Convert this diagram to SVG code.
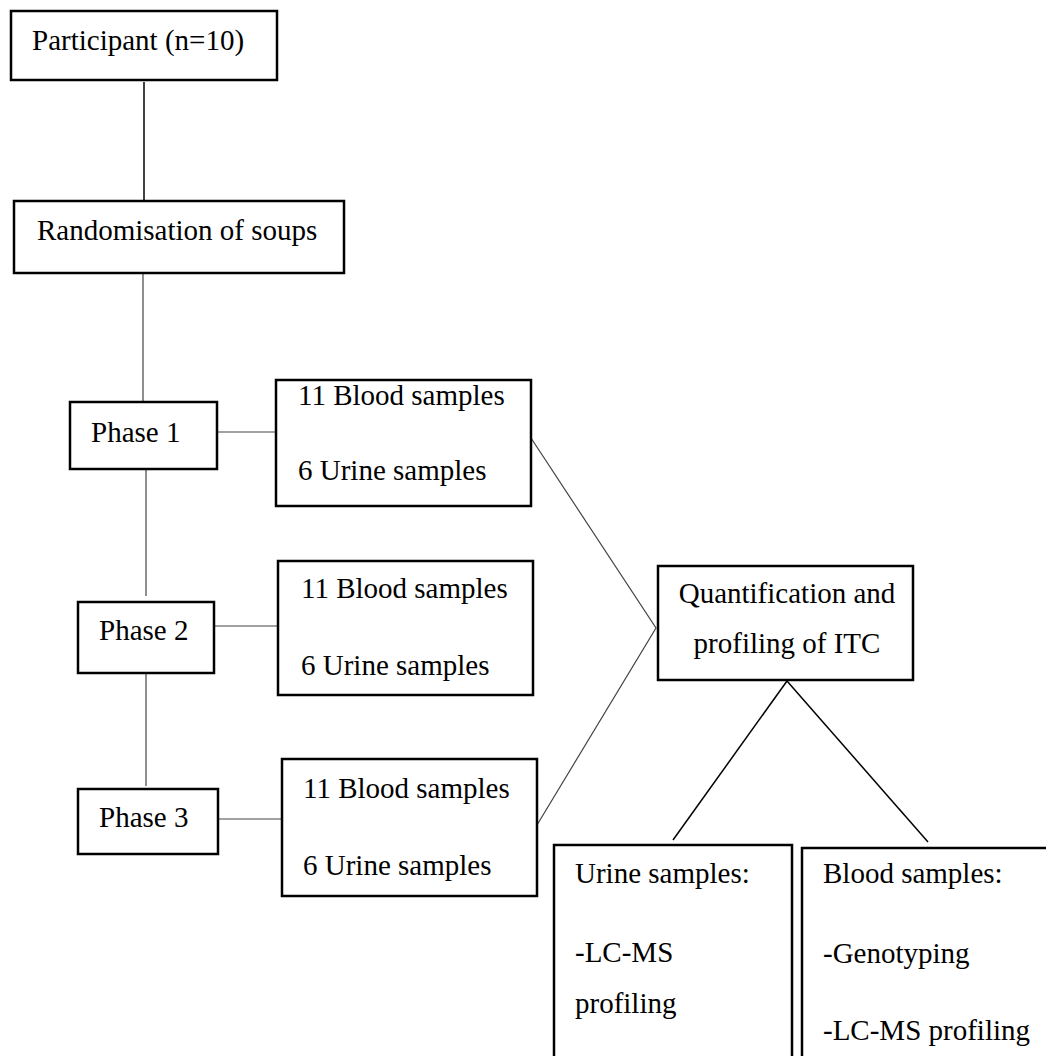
<svg xmlns="http://www.w3.org/2000/svg" width="1046" height="1056" viewBox="0 0 1046 1056">
<style>
.box{fill:#fff;stroke:#000;stroke-width:2.5}
.t{font-family:"Liberation Serif","Times New Roman",serif;font-size:29px;fill:#000}
.c{stroke:#444;stroke-width:1.2;fill:none}
.k{stroke:#000;stroke-width:1.5;fill:none}
</style>
<rect width="1046" height="1056" fill="#fff"/>
<g id="connectors">
<line class="k" x1="144" y1="82" x2="144" y2="200"/>
<line class="c" x1="143" y1="273" x2="143" y2="401"/>
<line class="c" x1="146" y1="470" x2="146" y2="596"/>
<line class="c" x1="146" y1="674" x2="146" y2="786"/>
<line class="c" x1="218" y1="432" x2="276" y2="432"/>
<line class="c" x1="215" y1="626" x2="278" y2="626"/>
<line class="c" x1="219" y1="819" x2="282" y2="819"/>
<polyline class="c" points="531,438 656,628 537,825"/>
<line class="k" x1="787" y1="681" x2="673" y2="840"/>
<line class="k" x1="787" y1="681" x2="928" y2="842"/>
</g>
<g id="participant"><rect class="box" x="11" y="11" width="266" height="69"/><text class="t" x="32" y="50">Participant (n=10)</text></g>
<g id="randomisation"><rect class="box" x="14" y="201" width="330" height="72"/><text class="t" x="37" y="240">Randomisation of soups</text></g>
<g id="phase1"><rect class="box" x="70" y="402" width="147" height="67"/><text class="t" x="91" y="442">Phase 1</text></g>
<g id="phase2"><rect class="box" x="78" y="602" width="136" height="71"/><text class="t" x="99" y="640">Phase 2</text></g>
<g id="phase3"><rect class="box" x="78" y="789" width="140" height="65"/><text class="t" x="99" y="827">Phase 3</text></g>
<g id="samples1"><rect class="box" x="276" y="380" width="255" height="126"/><text class="t" x="298" y="405">11 Blood samples</text><text class="t" x="298" y="480">6 Urine samples</text></g>
<g id="samples2"><rect class="box" x="278" y="561" width="255" height="134"/><text class="t" x="301" y="598">11 Blood samples</text><text class="t" x="301" y="675">6 Urine samples</text></g>
<g id="samples3"><rect class="box" x="282" y="759" width="255" height="137"/><text class="t" x="303" y="798">11 Blood samples</text><text class="t" x="303" y="875">6 Urine samples</text></g>
<g id="quantification"><rect class="box" x="658" y="566" width="255" height="114"/><text class="t" x="787" y="603" text-anchor="middle">Quantification and</text><text class="t" x="787" y="653" text-anchor="middle">profiling of ITC</text></g>
<g id="urine"><rect class="box" x="554" y="845" width="238" height="230"/><text class="t" x="575" y="883">Urine samples:</text><text class="t" x="575" y="962">-LC-MS</text><text class="t" x="575" y="1013">profiling</text></g>
<g id="blood"><rect class="box" x="802" y="848" width="260" height="230"/><text class="t" x="823" y="883">Blood samples:</text><text class="t" x="823" y="963">-Genotyping</text><text class="t" x="823" y="1040">-LC-MS profiling</text></g>
</svg>
